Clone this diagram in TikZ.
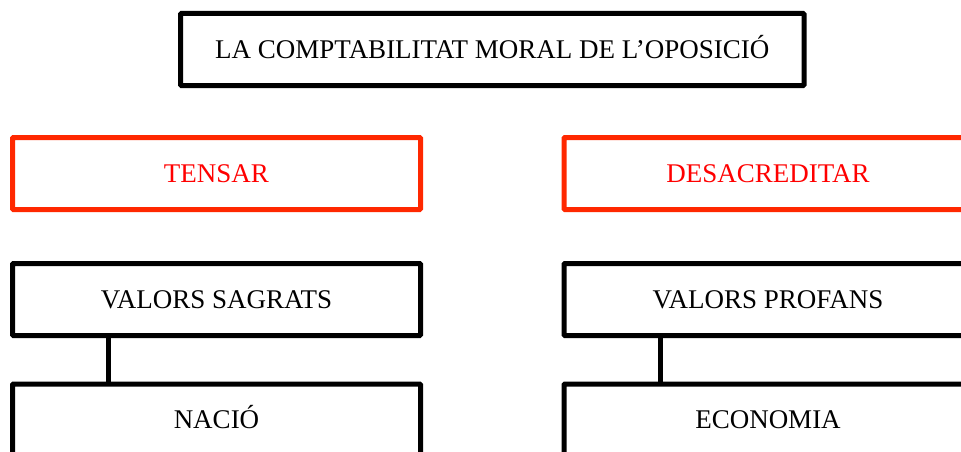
\documentclass[tikz,border=0pt]{standalone}
\usepackage{fontspec}
\setmainfont{Liberation Serif}
\definecolor{boxred}{RGB}{255,40,0}
\definecolor{textred}{RGB}{255,0,0}
\tikzset{
  blackbox/.style={draw=black, line width=5pt, rectangle, rounded corners=1pt,
    minimum width=408pt, minimum height=72pt, inner sep=0pt, outer sep=0pt,
    text height=20pt, text depth=2.1pt,
    font=\fontsize{27}{32}\selectfont},
  redbox/.style={blackbox, draw=boxred, text=textred},
  link/.style={line width=5pt, draw=black}
}
\begin{document}
\begin{tikzpicture}[x=1pt,y=-1pt]
\useasboundingbox (0,0) rectangle (961,452);
\clip (0,0) rectangle (961,452);
\node[blackbox, minimum width=623.5pt] (title) at (492.25,49.5) {LA COMPTABILITAT MORAL DE L’OPOSICIÓ};
\node[redbox] (tensar) at (216.5,173.5) {TENSAR};
\node[redbox] (desacr) at (768,173.5) {DESACREDITAR};
\node[blackbox] (sagrats) at (216.5,299.5) {VALORS SAGRATS};
\node[blackbox] (profans) at (768,299.5) {VALORS PROFANS};
\node[blackbox] (nacio) at (216.5,420) {NACIÓ};
\node[blackbox] (economia) at (768,420) {ECONOMIA};
\draw[link] (sagrats.south -| 108.5,0) -- (nacio.north -| 108.5,0);
\draw[link] (profans.south -| 660,0) -- (economia.north -| 660,0);
\end{tikzpicture}
\end{document}
